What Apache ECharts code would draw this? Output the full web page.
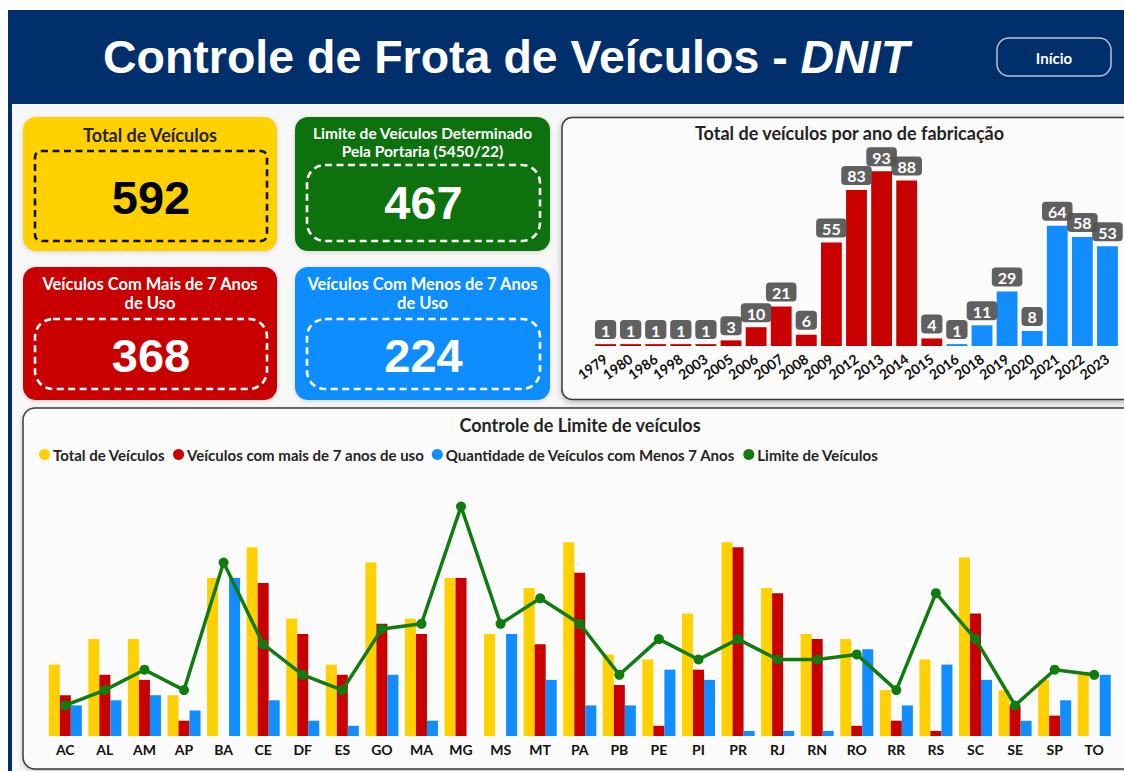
<!DOCTYPE html>
<html>
<head>
<meta charset="utf-8">
<script src="https://cdn.jsdelivr.net/npm/echarts@6/dist/echarts.min.js"></script>
<style>
html,body{margin:0;padding:0;background:#ffffff;}
#c{width:1124px;height:771px;}
</style>
</head>
<body>
<div id="c"></div>
<script>
// ---------- DATA ----------
const years = ['1979','1980','1986','1998','2003','2005','2006','2007','2008','2009','2012','2013','2014','2015','2016','2018','2019','2020','2021','2022','2023'];
const yearCounts = [1,1,1,1,1,3,10,21,6,55,83,93,88,4,1,11,29,8,64,58,53];

const states = ['AC','AL','AM','AP','BA','CE','DF','ES','GO','MA','MG','MS','MT','PA','PB','PE','PI','PR','RJ','RN','RO','RR','RS','SC','SE','SP','TO'];
const totalByState = [14,19,19,8,31,37,23,14,34,23,31,20,29,38,16,15,24,38,29,20,19,9,15,35,9,11,12];
const olderByState = [8,12,11,3,0,30,20,12,22,20,31,0,18,32,10,2,13,37,28,19,2,3,1,24,6,4,0];
const newerByState = [6,7,8,5,31,7,3,2,12,3,0,20,11,6,6,13,11,1,1,1,17,6,14,11,3,7,12];
const limitByState = [6,9,13,9,34,18,12,9,21,22,45,22,27,22,12,19,15,19,15,15,16,9,28,19,6,13,12];

const kpiTotal = 592;
const kpiLimit = 467;
const kpiOlder = 368;
const kpiNewer = 224;

const seriesNames = ['Total de Veículos','Veículos com mais de 7 anos de uso','Quantidade de Veículos com Menos 7 Anos','Limite de Veículos'];

// ---------- STYLE ----------
const NAVY = '#002F6C';
const YELLOW = '#FFD100';
const RED = '#C80000';
const BLUE = '#118DFF';
const GREEN_CARD = '#097209';
const LINE_GREEN = '#107C10';
const DARK = '#252423';
const FONT = 'Lato';
const NUMFONT = '"Liberation Sans", Arial, sans-serif';

function txt(x, y, text, size, color, opts) {
  return {
    type: 'text', x: x, y: y, silent: true, z: 5,
    style: Object.assign({
      text: text, fontSize: size, fontWeight: 'bold', fontFamily: FONT, fill: color,
      align: 'center', verticalAlign: 'middle', textAlign: 'center', textVerticalAlign: 'middle'
    }, opts || {})
  };
}

const cards = [
  {x:23, y:117, w:254, h:134, fill:YELLOW, tc:DARK, ts:18, lines:['Total de Veículos'], ty:[135], bx:35, by:151, bw:232, bh:90, br:6, bc:'#111111', v:kpiTotal, vy:197, vc:'#000000'},
  {x:295, y:117, w:255, h:134, fill:GREEN_CARD, tc:'#ffffff', ts:15.5, lines:['Limite de Veículos Determinado','Pela Portaria (5450/22)'], ty:[133,151], bx:307, by:165, bw:233, bh:76, br:18, bc:'#ffffff', v:kpiLimit, vy:202, vc:'#ffffff'},
  {x:23, y:267, w:254, h:133, fill:RED, tc:'#ffffff', ts:16.5, lines:['Veículos Com Mais de 7 Anos','de Uso'], ty:[284,303], bx:35, by:319, bw:232, bh:70, br:18, bc:'#ffffff', v:kpiOlder, vy:355, vc:'#ffffff'},
  {x:295, y:267, w:255, h:133, fill:BLUE, tc:'#ffffff', ts:16.5, lines:['Veículos Com Menos de 7 Anos','de Uso'], ty:[284,303], bx:307, by:319, bw:233, bh:70, br:18, bc:'#ffffff', v:kpiNewer, vy:355, vc:'#ffffff'}
];

const graphics = [];
// frame + header
graphics.push({type:'rect', z:-10, silent:true, shape:{x:8, y:10, width:1116, height:761}, style:{fill:NAVY}});
graphics.push({type:'rect', z:-9, silent:true, shape:{x:12, y:104, width:1112, height:667}, style:{fill:'#f7f7f7'}});
graphics.push(txt(506, 57, '{a|Controle de Frota de Veículos - }{b|DNIT}', 46.5, '#ffffff', {
  fontFamily: NUMFONT,
  rich: {
    a: {fontSize:46.5, fontWeight:'bold', fontFamily:NUMFONT, fill:'#ffffff', color:'#ffffff'},
    b: {fontSize:46.5, fontWeight:'bold', fontStyle:'italic', fontFamily:NUMFONT, fill:'#ffffff', color:'#ffffff'}
  }
}));
graphics.push({type:'rect', z:-5, silent:true, shape:{x:997, y:38, width:114, height:38, r:12}, style:{fill:NAVY, stroke:'#b7c3d6', lineWidth:1.5}});
graphics.push(txt(1054, 58, 'Início', 15, '#ffffff'));

// cards
cards.forEach(c => {
  graphics.push({type:'rect', z:-5, silent:true, shape:{x:c.x, y:c.y, width:c.w, height:c.h, r:13}, style:{fill:c.fill, shadowBlur:4, shadowColor:'rgba(0,0,0,0.15)', shadowOffsetY:1}});
  graphics.push({type:'rect', z:-4, silent:true, shape:{x:c.bx, y:c.by, width:c.bw, height:c.bh, r:c.br}, style:{fill:'none', stroke:c.bc, lineWidth:2.6, lineDash:[7,4.5]}});
  c.lines.forEach((l, i) => graphics.push(txt(c.x + c.w/2, c.ty[i], l, c.ts, c.tc)));
  graphics.push(txt(c.bx + c.bw/2, c.vy, String(c.v), 47, c.vc, {fontFamily: NUMFONT}));
});

// panels
graphics.push({type:'rect', z:-5, silent:true, shape:{x:562, y:117.5, width:600, height:282, r:10}, style:{fill:'#fbfbfb', stroke:'#3a3a3a', lineWidth:1.5, shadowBlur:6, shadowColor:'rgba(0,0,0,0.28)', shadowOffsetY:2}});
graphics.push({type:'rect', z:-5, silent:true, shape:{x:23, y:408, width:1140, height:361, r:12}, style:{fill:'#fbfbfb', stroke:'#3a3a3a', lineWidth:1.5, shadowBlur:5, shadowColor:'rgba(0,0,0,0.2)', shadowOffsetY:2}});
graphics.push(txt(849.5, 132.5, 'Total de veículos por ano de fabricação', 18, DARK));
graphics.push(txt(580, 425, 'Controle de Limite de veículos', 18, DARK));

const chart = echarts.init(document.getElementById('c'), null, {renderer:'svg', width:1124, height:771});

chart.setOption({
  animation: false,
  backgroundColor: '#ffffff',
  graphic: graphics,
  legend: {
    left: 34, top: 442,
    icon: 'circle', itemWidth: 11, itemHeight: 11, itemGap: 8,
    data: seriesNames,
    textStyle: {fontFamily: FONT, fontWeight: 'bold', fontSize: 15, color: DARK, padding: [0,0,0,-2]}
  },
  grid: [
    {left: 593, right: 4, top: 158, bottom: 425},
    {left: 45.5, right: 10, top: 481, bottom: 35}
  ],
  xAxis: [
    {type:'category', gridIndex:0, data: years, z: 10,
     axisLine:{show:false}, axisTick:{show:false},
     axisLabel:{interval:0, rotate:36, margin:11, fontFamily:FONT, fontWeight:'bold', fontSize:14, color:'#111'}},
    {type:'category', gridIndex:1, data: states, z: 10,
     axisLine:{show:false}, axisTick:{show:false},
     axisLabel:{interval:0, margin:6, fontFamily:FONT, fontWeight:'bold', fontSize:14, color:'#111'}}
  ],
  yAxis: [
    {type:'value', gridIndex:0, min:0, max:100, show:false},
    {type:'value', gridIndex:1, min:0, max:50, show:false}
  ],
  series: [
    {
      name: 'Total por ano', type: 'bar', xAxisIndex:0, yAxisIndex:0,
      data: yearCounts, barCategoryGap: '17%', z: 3,
      itemStyle: {color: p => (parseInt(p.name, 10) <= 2015 ? RED : BLUE)},
      label: {
        show: true, position: 'top', distance: 5,
        color: '#ffffff', fontFamily: FONT, fontWeight: 'bold', fontSize: 16,
        backgroundColor: 'rgba(82,82,82,0.92)', borderRadius: 4, padding: [2,6,1,6]
      }
    },
    {name: seriesNames[0], type:'bar', xAxisIndex:1, yAxisIndex:1, data: totalByState,
     barGap: '0%', barCategoryGap: '16.5%', itemStyle:{color: YELLOW}, z: 3},
    {name: seriesNames[1], type:'bar', xAxisIndex:1, yAxisIndex:1, data: olderByState,
     barGap: '0%', barCategoryGap: '16.5%', itemStyle:{color: RED}, z: 3},
    {name: seriesNames[2], type:'bar', xAxisIndex:1, yAxisIndex:1, data: newerByState,
     barGap: '0%', barCategoryGap: '16.5%', itemStyle:{color: BLUE}, z: 3},
    {name: seriesNames[3], type:'line', xAxisIndex:1, yAxisIndex:1, data: limitByState,
     symbol: 'circle', symbolSize: 10, z: 5,
     itemStyle:{color: LINE_GREEN}, lineStyle:{color: LINE_GREEN, width: 3.5}}
  ]
});
</script>
</body>
</html>
